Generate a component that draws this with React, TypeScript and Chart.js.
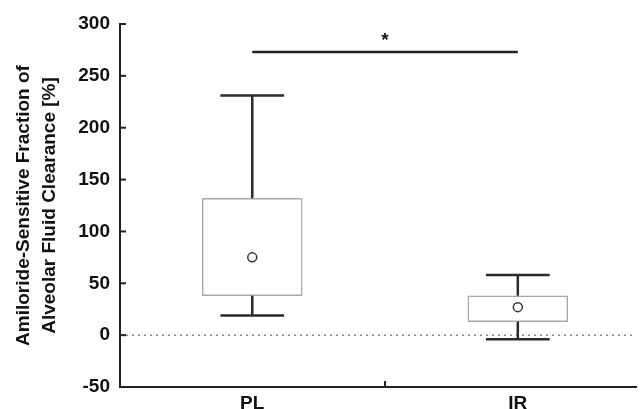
import React, { useEffect, useRef } from "react";
import { Chart, registerables } from "chart.js";

Chart.register(...registerables);

const categories = ["PL", "IR"];
const whiskerLow = [19, -4];
const boxLow = [38, 13];
const boxHigh = [132, 38];
const whiskerHigh = [231, 58];
const means = [75, 27];
const sigValue = 273;
const sigStarValue = 288;
const sigLabel = "*";
const yMin = -50;
const yMax = 300;
const yStep = 50;
const xMin = 0.502;
const xMax = 2.445;
const yTitle = ["Amiloride-Sensitive Fraction of", "Alveolar Fluid Clearance [%]"];

const FONT = "'Liberation Sans', Arial, Helvetica, sans-serif";
const xPos = categories.map((_, i) => i + 1);

export default function App() {
  const ref = useRef<HTMLCanvasElement | null>(null);
  useEffect(() => {
    if (!ref.current) return;
    const overlay = {
      id: "overlay",
      afterDatasetsDraw(chart: any) {
        const { ctx, scales, chartArea } = chart;
        const xs = scales.x;
        const ys = scales.y;
        ctx.save();
        // whiskers
        ctx.strokeStyle = "#2a2a2a";
        ctx.lineWidth = 2.5;
        const capHalf = 0.12;
        xPos.forEach((xv, i) => {
          const cx = xs.getPixelForValue(xv);
          const l = xs.getPixelForValue(xv - capHalf);
          const r = xs.getPixelForValue(xv + capHalf);
          const segs = [
            [boxHigh[i], whiskerHigh[i]],
            [boxLow[i], whiskerLow[i]],
          ];
          segs.forEach(([a, b]) => {
            ctx.beginPath();
            ctx.moveTo(cx, ys.getPixelForValue(a));
            ctx.lineTo(cx, ys.getPixelForValue(b));
            ctx.stroke();
            ctx.beginPath();
            ctx.moveTo(l, ys.getPixelForValue(b));
            ctx.lineTo(r, ys.getPixelForValue(b));
            ctx.stroke();
          });
        });
        // inward ticks
        ctx.strokeStyle = "#222";
        ctx.lineWidth = 2;
        ys.ticks.forEach((t: any) => {
          const py = ys.getPixelForValue(t.value);
          ctx.beginPath();
          ctx.moveTo(chartArea.left, py);
          ctx.lineTo(chartArea.left + 6, py);
          ctx.stroke();
        });
        const mx = xs.getPixelForValue(1.5);
        ctx.beginPath();
        ctx.moveTo(mx, chartArea.bottom);
        ctx.lineTo(mx, chartArea.bottom - 6);
        ctx.stroke();
        // significance star
        ctx.fillStyle = "#111";
        ctx.font = `bold 19px ${FONT}`;
        ctx.textAlign = "center";
        ctx.textBaseline = "middle";
        ctx.fillText(sigLabel, xs.getPixelForValue(1.5), ys.getPixelForValue(sigStarValue) + 4);
        ctx.restore();
      },
    };

    const chart = new Chart(ref.current, {
      type: "bar",
      data: {
        datasets: [
          {
            type: "line",
            data: [
              { x: xMin, y: 0 },
              { x: xMax, y: 0 },
            ],
            borderColor: "#8a8a8a",
            borderWidth: 1.5,
            borderDash: [2, 4],
            pointRadius: 0,
            order: 5,
          } as any,
          {
            type: "bar",
            data: xPos.map((x, i) => ({ x, y: [boxLow[i], boxHigh[i]] })),
            backgroundColor: "#ffffff",
            borderColor: "#a8a8a8",
            borderWidth: 1.5,
            borderSkipped: false,
            barThickness: 100,
            order: 4,
          } as any,
          {
            type: "line",
            data: [
              { x: 1, y: sigValue },
              { x: 2, y: sigValue },
            ],
            borderColor: "#222",
            borderWidth: 2.5,
            pointRadius: 0,
            order: 2,
          } as any,
          {
            type: "scatter",
            data: xPos.map((x, i) => ({ x, y: means[i] })),
            pointRadius: 4.5,
            pointBackgroundColor: "#ffffff",
            pointBorderColor: "#333",
            pointBorderWidth: 1.5,
            order: 1,
          } as any,
        ],
      },
      options: {
        animation: false,
        responsive: true,
        maintainAspectRatio: false,
        layout: { padding: { top: 24, right: 0, left: 0, bottom: 0 } },
        plugins: { legend: { display: false }, tooltip: { enabled: false } },
        scales: {
          x: {
            type: "linear",
            offset: false,
            min: xMin,
            max: xMax,
            afterBuildTicks: (s: any) => {
              s.ticks = xPos.map((v) => ({ value: v }));
            },
            afterFit: (s: any) => {
              s.height = 22;
            },
            ticks: {
              padding: 5,
              color: "#111",
              font: { family: FONT, size: 19, weight: "bold" },
              callback: (v: any) => categories[Math.round(Number(v)) - 1] ?? "",
              maxRotation: 0,
              autoSkip: false,
            },
            grid: { display: true, drawOnChartArea: false, drawTicks: false, offset: false },
            border: { display: true, color: "#222", width: 2 },
          },
          y: {
            type: "linear",
            min: yMin,
            max: yMax,
            afterFit: (s: any) => {
              s.width = 120;
            },
            ticks: {
              stepSize: yStep,
              padding: 10,
              color: "#111",
              font: { family: FONT, size: 19, weight: "bold" },
            },
            grid: { display: true, drawOnChartArea: false, drawTicks: false },
            border: { display: true, color: "#222", width: 2 },
            title: {
              display: true,
              text: yTitle,
              color: "#111",
              font: { family: FONT, size: 19, weight: "bold", lineHeight: "26px" },
              padding: { top: 11, bottom: 0 },
            },
          },
        },
      },
      plugins: [overlay],
    } as any);
    return () => chart.destroy();
  }, []);

  return (
    <div style={{ position: "fixed", left: 0, top: 0, width: 642, height: 409, background: "#fff" }}>
      <canvas ref={ref} />
    </div>
  );
}
